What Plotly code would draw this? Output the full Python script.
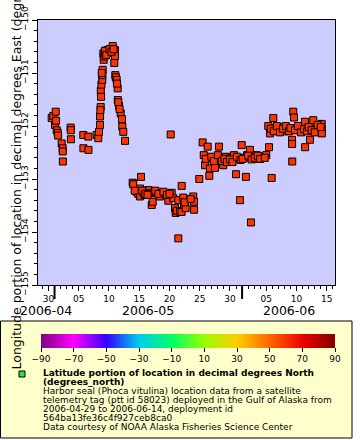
import plotly.graph_objects as go
import pandas as pd

# ---------------- data ----------------
times = [
    "2006-04-30 12:40", "2006-04-30 19:00", "2006-05-01 01:50", "2006-05-01 04:30", "2006-05-01 06:00",
    "2006-05-01 08:40", "2006-05-01 12:30", "2006-05-01 14:00", "2006-05-02 04:20", "2006-05-02 08:20",
    "2006-05-02 08:30", "2006-05-02 09:00", "2006-05-03 16:00", "2006-05-03 16:30", "2006-05-03 17:00",
    "2006-05-05 18:00", "2006-05-05 18:30", "2006-05-06 14:00", "2006-05-06 14:30", "2006-05-07 23:00",
    "2006-05-08 05:30", "2006-05-08 08:20", "2006-05-08 12:20", "2006-05-08 12:30", "2006-05-08 15:00",
    "2006-05-08 15:30", "2006-05-08 18:00", "2006-05-08 21:20", "2006-05-08 21:40", "2006-05-08 23:00",
    "2006-05-09 01:30", "2006-05-09 03:00", "2006-05-09 05:20", "2006-05-09 10:00", "2006-05-09 17:20",
    "2006-05-09 22:00", "2006-05-10 06:00", "2006-05-10 14:40", "2006-05-10 21:00", "2006-05-10 23:50",
    "2006-05-11 00:00", "2006-05-11 01:00", "2006-05-11 03:00", "2006-05-11 06:30", "2006-05-11 10:30",
    "2006-05-11 11:00", "2006-05-11 15:40", "2006-05-11 22:20", "2006-05-12 03:30", "2006-05-12 04:50",
    "2006-05-12 08:40", "2006-05-12 15:30", "2006-05-13 22:00", "2006-05-14 00:20", "2006-05-14 14:00",
    "2006-05-14 20:00", "2006-05-15 03:00", "2006-05-15 03:30", "2006-05-15 07:00", "2006-05-15 18:00",
    "2006-05-16 06:00", "2006-05-16 12:00", "2006-05-16 18:40", "2006-05-17 01:30", "2006-05-17 05:20",
    "2006-05-17 12:00", "2006-05-17 21:00", "2006-05-18 10:20", "2006-05-18 16:00", "2006-05-18 23:30",
    "2006-05-19 08:00", "2006-05-19 19:20", "2006-05-20 04:50", "2006-05-20 08:40", "2006-05-20 15:00",
    "2006-05-20 21:50", "2006-05-21 00:30", "2006-05-21 05:00", "2006-05-21 10:50", "2006-05-21 11:00",
    "2006-05-21 18:00", "2006-05-22 00:00", "2006-05-22 00:30", "2006-05-22 06:50", "2006-05-22 09:40",
    "2006-05-22 16:00", "2006-05-23 22:20", "2006-05-24 01:10", "2006-05-24 01:30", "2006-05-24 22:20",
    "2006-05-25 11:40", "2006-05-25 21:00", "2006-05-26 07:30", "2006-05-26 14:00", "2006-05-26 16:40",
    "2006-05-27 02:00", "2006-05-27 12:30", "2006-05-27 20:00", "2006-05-28 04:20", "2006-05-28 12:00",
    "2006-05-28 21:20", "2006-05-29 08:00", "2006-05-29 18:00", "2006-05-30 06:00", "2006-05-30 16:00",
    "2006-05-30 23:50", "2006-05-31 10:00", "2006-05-31 15:40", "2006-05-31 22:20", "2006-06-01 08:00",
    "2006-06-01 15:20", "2006-06-01 20:00", "2006-06-02 07:20", "2006-06-02 11:20", "2006-06-02 18:00",
    "2006-06-03 08:00", "2006-06-03 20:00", "2006-06-04 10:00", "2006-06-05 00:00", "2006-06-05 08:00",
    "2006-06-05 10:50", "2006-06-05 14:40", "2006-06-05 21:20", "2006-06-06 03:50", "2006-06-06 12:00",
    "2006-06-07 00:00", "2006-06-07 12:00", "2006-06-08 00:00", "2006-06-08 12:00", "2006-06-09 06:10",
    "2006-06-09 06:30", "2006-06-09 07:00", "2006-06-09 11:00", "2006-06-09 14:00", "2006-06-10 00:00",
    "2006-06-10 12:00", "2006-06-11 00:00", "2006-06-11 09:40", "2006-06-11 10:00", "2006-06-12 05:20",
    "2006-06-12 18:30", "2006-06-13 06:00", "2006-06-13 18:00", "2006-06-14 03:50", "2006-06-14 04:00",
    "2006-06-14 04:30",
    # further fixes inside the dense clusters
    "2006-05-08 14:00", "2006-05-08 16:30", "2006-05-08 19:30", "2006-05-09 08:00", "2006-05-09 13:00",
    "2006-05-10 02:00", "2006-05-10 10:00", "2006-05-10 18:00", "2006-05-11 08:00", "2006-05-11 13:00",
    "2006-05-11 18:00", "2006-05-14 06:00", "2006-05-15 12:00", "2006-05-15 22:00", "2006-05-16 00:00",
    "2006-05-16 09:00", "2006-05-17 16:00", "2006-05-18 04:00", "2006-05-19 00:00", "2006-05-19 14:00",
    "2006-05-20 00:00", "2006-05-22 12:00", "2006-05-23 12:00", "2006-05-25 16:00", "2006-05-26 00:00",
    "2006-05-26 22:00", "2006-05-27 08:00", "2006-05-28 00:00", "2006-05-28 16:00", "2006-05-29 02:00",
    "2006-05-29 12:00", "2006-05-30 00:00", "2006-05-30 10:00", "2006-05-31 04:00", "2006-05-31 18:00",
    "2006-06-01 02:00", "2006-06-02 00:00", "2006-06-02 14:00", "2006-06-03 02:00", "2006-06-03 14:00",
    "2006-06-04 00:00", "2006-06-04 18:00", "2006-06-05 18:00", "2006-06-06 06:00", "2006-06-06 18:00",
    "2006-06-07 06:00", "2006-06-07 18:00", "2006-06-08 06:00", "2006-06-08 18:00", "2006-06-09 00:00",
    "2006-06-09 18:00", "2006-06-10 06:00", "2006-06-10 18:00", "2006-06-11 06:00", "2006-06-11 18:00",
    "2006-06-12 00:00", "2006-06-12 12:00", "2006-06-13 00:00", "2006-06-13 12:00", "2006-06-14 00:00",
]
longitude = [
    -151.85, -151.81, -151.98, -151.73, -151.90,
    -152.08, -152.13, -152.18, -152.33, -152.42,
    -152.48, -152.67, -152.03, -152.08, -152.25,
    -152.17, -152.42, -152.20, -152.45, -152.17,
    -152.23, -152.11, -151.98, -151.82, -151.64,
    -151.34, -151.22, -151.13, -151.04, -150.94,
    -150.63, -150.75, -150.69, -150.64, -150.57,
    -150.60, -150.62, -150.49, -150.81, -150.57,
    -150.68, -151.04, -151.08, -151.13, -151.29,
    -151.51, -151.62, -151.76, -151.87, -152.01,
    -152.11, -152.28, -153.07, -153.10, -153.24,
    -153.28, -153.18, -153.33, -152.96, -153.26,
    -153.24, -153.21, -153.27, -153.49, -153.43,
    -153.25, -153.26, -153.33, -153.27, -153.26,
    -153.29, -153.41, -152.16, -153.26, -153.36,
    -153.55, -153.64, -153.60, -153.40, -154.12,
    -153.62, -153.62, -153.13, -153.35, -153.49,
    -153.55, -153.33, -153.43, -153.58, -153.00,
    -152.31, -152.74, -152.39, -152.94, -152.80,
    -152.60, -152.79, -152.62, -152.39, -152.60,
    -152.74, -152.58, -152.62, -152.60, -152.55,
    -152.91, -152.62, -153.40, -152.36, -152.60,
    -152.96, -152.55, -152.45, -153.82, -152.60,
    -152.55, -152.62, -152.58, -152.55, -152.00,
    -152.40, -152.14, -152.98, -151.85, -152.05,
    -152.08, -152.02, -152.10, -152.05, -152.26,
    -152.34, -152.67, -151.73, -151.84, -152.05,
    -152.08, -152.02, -151.92, -152.40, -152.26,
    -151.89, -152.05, -152.03, -151.96, -152.08,
    -152.14,
    -151.70, -151.45, -151.00, -150.58, -150.66,
    -150.55, -150.60, -150.55, -151.20, -151.55,
    -151.68, -153.22, -153.22, -153.30, -153.28,
    -153.30, -153.22, -153.28, -153.24, -153.30,
    -153.28, -153.44, -153.38, -152.55, -152.62,
    -152.58, -152.66, -152.55, -152.66, -152.62,
    -152.68, -152.63, -152.68, -152.58, -152.64,
    -152.62, -152.56, -152.63, -152.60, -152.56,
    -152.62, -152.60, -152.05, -152.10, -152.00,
    -152.12, -152.05, -152.00, -152.10, -152.04,
    -152.08, -152.00, -152.12, -152.06, -152.10,
    -152.02, -152.08, -152.12, -151.98, -152.02,
]

x_tick_dates = ["2006-04-30", "2006-05-05", "2006-05-10", "2006-05-15", "2006-05-20",
                "2006-05-25", "2006-05-30", "2006-06-05", "2006-06-10", "2006-06-15"]
month_starts = ["2006-05-01", "2006-06-01"]
month_labels = ["2006-04", "2006-05", "2006-06"]
x_range = ["2006-04-28 06:20", "2006-06-16 08:40"]
y_range = [-155, -150]
colorbar_ticks = [-90, -70, -50, -30, -10, 10, 30, 50, 70, 90]

y_title = "Longitude portion of location in decimal degrees East (degrees_east)"
legend_bold = ["Latitude portion of location in decimal degrees North", "(degrees_north)"]
legend_lines = [
    "Harbor seal (Phoca vitulina) location data from a satellite",
    "telemetry tag (ptt id 58023) deployed in the Gulf of Alaska from",
    "2006-04-29 to 2006-06-14, deployment id",
    "564ba13fe36c4f927ceb8ca0",
    "Data courtesy of NOAA Alaska Fisheries Science Center",
]

# ---------------- layout helpers ----------------
W, H = 360, 440
ML, MR, MT, MB = 38, 25, 20, 155
PW, PH = W - ML - MR, H - MT - MB
FONT = "DejaVu Sans"


def px_x(px):
    return (px - ML) / PW


def px_y(py):
    return (H - MB - py) / PH


rainbow = [
    [0.0, "#800080"], [0.111, "#ff00ff"], [0.222, "#3300ff"], [0.333, "#00ccee"],
    [0.444, "#00ff66"], [0.556, "#99ff00"], [0.667, "#ffcc00"], [0.778, "#ff6600"],
    [0.889, "#ee0000"], [1.0, "#800000"],
]

fig = go.Figure()
fig.add_trace(go.Scatter(
    x=pd.to_datetime(times), y=longitude, mode="markers",
    marker=dict(symbol="square", size=7, color="#ff3300", line=dict(color="black", width=1)),
    showlegend=False,
))
# colour bar only (latitude scale)
fig.add_trace(go.Scatter(
    x=[None], y=[None], mode="markers", showlegend=False, hoverinfo="skip",
    marker=dict(color=[colorbar_ticks[0], colorbar_ticks[-1]], cmin=-90, cmax=90, colorscale=rainbow,
                showscale=True,
                colorbar=dict(orientation="h", x=px_x(188), xanchor="center", y=px_y(334), yanchor="top",
                              len=294, lenmode="pixels", thickness=14, thicknessmode="pixels",
                              xpad=0, ypad=0, outlinewidth=0, tickvals=colorbar_ticks,
                              ticks="outside", ticklen=4, tickcolor="black",
                              tickfont=dict(family=FONT, size=9, color="black"))),
))

shapes = []
# legend box
shapes.append(dict(type="rect", xref="paper", yref="paper", x0=px_x(0.5), x1=px_x(352), y0=px_y(321), y1=px_y(438),
                   fillcolor="#ffffcc", line=dict(color="black", width=1), layer="below"))
# legend marker
shapes.append(dict(type="rect", xref="paper", yref="paper", xsizemode="pixel", ysizemode="pixel",
                   xanchor=px_x(22), yanchor=px_y(374), x0=-3, x1=3, y0=-3, y1=3,
                   fillcolor="#33dd33", line=dict(color="black", width=1)))
# month boundary ticks
for m in month_starts:
    shapes.append(dict(type="line", xref="x", yref="paper", x0=m, x1=m, y0=0, y1=px_y(299),
                       line=dict(color="black", width=2)))

annotations = []
annotations.append(dict(text=y_title, xref="paper", yref="paper", x=px_x(16), y=px_y(372),
                        xanchor="center", yanchor="bottom", textangle=-90, showarrow=False,
                        font=dict(family=FONT, size=12.5, color="black")))
# month labels centred on the visible part of each month
t0, t1 = pd.Timestamp(x_range[0]), pd.Timestamp(x_range[1])
bounds = [t0] + [pd.Timestamp(m) for m in month_starts] + [t1]
for i, lab in enumerate(month_labels):
    mid = bounds[i] + (bounds[i + 1] - bounds[i]) / 2
    annotations.append(dict(text=lab, xref="x", yref="paper", x=mid, y=px_y(310.5), xanchor="center",
                            yanchor="middle", showarrow=False, font=dict(family=FONT, size=12.5, color="black")))
line_y = [372.7, 381.7, 390.7, 399.7, 408.7, 417.7, 426.7]
for i, t in enumerate(legend_bold + legend_lines):
    txt = f"<b>{t}</b>" if i < len(legend_bold) else t
    annotations.append(dict(text=txt, xref="paper", yref="paper", x=px_x(41), y=px_y(line_y[i]),
                            xanchor="left", yanchor="middle", showarrow=False,
                            font=dict(family=FONT, size=9, color="black")))

fig.update_layout(
    width=W, height=H, autosize=False, hovermode=False,
    margin=dict(l=ML, r=MR, t=MT, b=MB, pad=0, autoexpand=False),
    paper_bgcolor="white", plot_bgcolor="#ccccff",
    font=dict(family=FONT, size=9, color="black"),
    shapes=shapes, annotations=annotations, showlegend=False,
    xaxis=dict(type="date", range=x_range, tickvals=x_tick_dates, tickformat="%d",
               showgrid=False, zeroline=False, showline=True, linecolor="black", linewidth=1, mirror=True,
               ticks="outside", ticklen=5, tickcolor="black", tickfont=dict(family=FONT, size=9),
               minor=dict(tickmode="linear", tick0="2006-04-28", dtick=86400000, ticks="outside",
                          ticklen=3, tickcolor="black")),
    yaxis=dict(range=y_range, tick0=-155, dtick=1, tickangle=-90,
               showgrid=False, zeroline=False, showline=True, linecolor="black", linewidth=1, mirror=True,
               ticks="outside", ticklen=5, tickcolor="black", tickfont=dict(family=FONT, size=9),
               minor=dict(dtick=0.2, ticks="outside", ticklen=3, tickcolor="black")),
)

fig.write_html("out.html", config={"responsive": False, "displayModeBar": False},
               post_script="document.body.style.margin='0px';")
